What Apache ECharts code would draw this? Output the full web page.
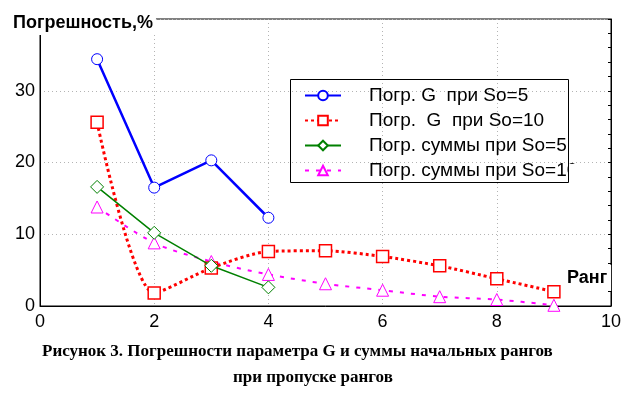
<!DOCTYPE html>
<html>
  <head>
    <meta charset="utf-8" />
    <title>ECharts</title>
    <script src="https://cdn.jsdelivr.net/npm/echarts@6.0.0/dist/echarts.min.js"></script>
    <style>
      body { margin: 0; background: #fff; }
    </style>
  </head>
  <body>
    <div id="chartContainer" style="width: 636px;height:399px;"></div>
    <script>
        var chartContainer = document.getElementById('chartContainer');
        var myChart = echarts.init(chartContainer);

        // ранги (ось X)
        var ranks = [1, 2, 3, 4, 5, 6, 7, 8, 9];
        // значения погрешностей, %
        var errG5 = [34.4, 16.5, 20.3, 12.3];
        var errG10 = [25.6, 1.8, 5.3, 7.6, 7.7, 6.9, 5.6, 3.8, 2.0];
        var errSum5 = [16.6, 10.2, 5.6, 2.6];
        var errSum10 = [13.8, 8.8, 6.2, 4.4, 3.1, 2.2, 1.3, 0.9, 0.1];
        var seriesNames = [
          'Погр. G  при So=5',
          'Погр.  G  при So=10',
          'Погр. суммы при So=5',
          'Погр. суммы при So=10'
        ];
        var yTicks = [0, 10, 20, 30];

        function pairs(values) {
          return values.map(function (v, i) { return [ranks[i], v]; });
        }

        var font = '"Liberation Sans", Arial, sans-serif';

        var option = {
          animation: false,
          backgroundColor: '#fff',
          title: [
            {
              text: 'Погрешность,%',
              left: 10,
              top: 11,
              padding: [3, 3, 3, 3],
              backgroundColor: '#fff',
              textStyle: { fontFamily: font, fontSize: 18, fontWeight: 'bold', color: '#000' }
            },
            {
              text: 'Ранг',
              left: 563,
              top: 265,
              padding: [4, 4, 4, 4],
              backgroundColor: '#fff',
              textStyle: { fontFamily: font, fontSize: 18, fontWeight: 'bold', color: '#000' }
            }
          ],
          grid: {
            left: 40, right: 25, top: 19, bottom: 93,
            show: true, borderColor: '#000', borderWidth: 1
          },
          legend: {
            orient: 'vertical',
            left: 299,
            top: 81,
            itemWidth: 36,
            itemHeight: 12,
            itemGap: 6,
            data: seriesNames,
            textStyle: {
              fontFamily: font, fontSize: 19, color: '#000',
              lineHeight: 19, padding: [0, 0, 0, 23]
            }
          },
          graphic: [
            {
              // текст легенды обрезан рамкой справа
              type: 'rect',
              shape: { x: 569, y: 164, width: 36, height: 18 },
              style: { fill: '#fff' },
              z: 90
            },
            {
              type: 'rect',
              shape: { x: 290.5, y: 79.5, width: 278, height: 103 },
              style: { fill: null, stroke: '#000', lineWidth: 1 },
              z: 100
            },
            {
              type: 'text',
              left: 42, top: 343,
              style: {
                text: 'Рисунок 3. Погрешности параметра G и суммы начальных рангов',
                font: 'bold 17px "Liberation Serif", "Times New Roman", serif',
                fill: '#000'
              }
            },
            {
              type: 'text',
              left: 233, top: 369,
              style: {
                text: 'при пропуске рангов',
                font: 'bold 17px "Liberation Serif", "Times New Roman", serif',
                fill: '#000'
              }
            }
          ],
          xAxis: {
            type: 'value',
            min: 0, max: 10, interval: 2,
            axisLine: { lineStyle: { color: '#000', width: 1 } },
            axisTick: { show: false },
            axisLabel: { fontFamily: font, fontSize: 18, color: '#000', margin: 7 },
            splitLine: { show: true, lineStyle: { color: '#b4b4b4', type: [1, 3], width: 1 } }
          },
          yAxis: [
            {
              type: 'value',
              min: 0, max: 40, interval: 10,
              axisLine: { show: true, lineStyle: { color: '#000', width: 1 } },
              axisTick: { show: false },
              axisLabel: {
                fontFamily: font, fontSize: 18, color: '#000', margin: 5,
                formatter: function (v) { return yTicks.indexOf(v) >= 0 ? String(v) : ''; }
              },
              splitLine: { show: true, lineStyle: { color: '#b4b4b4', type: [1, 3], width: 1 } }
            },
            {
              type: 'value',
              position: 'right',
              min: 0, max: 40, interval: 2,
              axisLine: { show: true, lineStyle: { color: '#000', width: 1 } },
              axisTick: { show: true, inside: true, length: 3, lineStyle: { color: '#000' } },
              axisLabel: { show: false },
              splitLine: { show: false }
            }
          ],
          series: [
            {
              name: seriesNames[0],
              type: 'line',
              data: pairs(errG5),
              symbol: 'circle',
              symbolSize: 11,
              lineStyle: { color: '#0000ff', width: 2.5 },
              itemStyle: { color: '#fff', borderColor: '#0000ff', borderWidth: 1 },
              z: 4
            },
            {
              name: seriesNames[1],
              type: 'line',
              data: pairs(errG10),
              smooth: 0.25,
              symbol: 'rect',
              symbolSize: 12,
              lineStyle: { color: '#ff0000', width: 3, type: [3, 3] },
              itemStyle: { color: '#fff', borderColor: '#ff0000', borderWidth: 1.5 },
              z: 3
            },
            {
              name: seriesNames[2],
              type: 'line',
              data: pairs(errSum5),
              symbol: 'diamond',
              symbolSize: 13,
              lineStyle: { color: '#008000', width: 1.5 },
              itemStyle: { color: '#fff', borderColor: '#008000', borderWidth: 1 },
              z: 5
            },
            {
              name: seriesNames[3],
              type: 'line',
              data: pairs(errSum10),
              smooth: 0.3,
              symbol: 'triangle',
              symbolSize: 12,
              lineStyle: { color: '#ff00ff', width: 2, type: [4, 7] },
              itemStyle: { color: '#fff', borderColor: '#ff00ff', borderWidth: 1 },
              z: 2
            }
          ]
        };

        myChart.setOption(option);
    </script>
  </body>
</html>
